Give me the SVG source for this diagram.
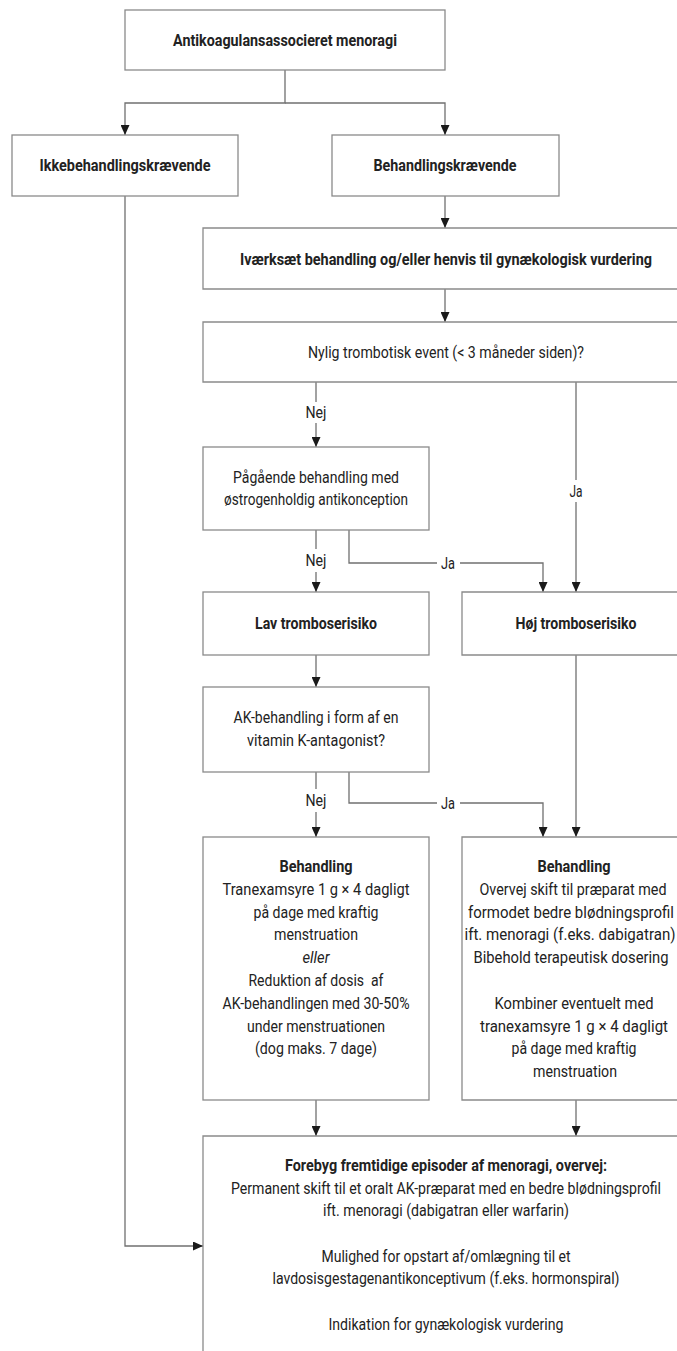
<svg xmlns="http://www.w3.org/2000/svg" width="677" height="1351" viewBox="0 0 677 1351">
<style>
.box{fill:#fff;stroke:#8a8a8a;stroke-width:1.3}
.ob{fill:none;stroke:#8a8a8a;stroke-width:1.3}
.ln{fill:none;stroke:#707070;stroke-width:1.3}
text{font-family:Roboto,"Liberation Sans",sans-serif;font-size:17px;fill:#222;text-anchor:middle}
.b{font-weight:bold}
.i{font-style:italic}
</style>
<defs>
<marker id="ah" markerUnits="userSpaceOnUse" markerWidth="10" markerHeight="9" refX="10" refY="4.5" orient="auto">
<path d="M0,0 L10,4.5 L0,9 z" fill="#1a1a1a"/>
</marker>
</defs>
<rect width="677" height="1351" fill="#fff"/>
<g id="connectors">
<path class="ln" d="M285,70 V103 H125 V135" marker-end="url(#ah)"/>
<path class="ln" d="M285,103 H445 V135" marker-end="url(#ah)"/>
<path class="ln" d="M125,196 V1246 H203" marker-end="url(#ah)"/>
<path class="ln" d="M445,196 V228" marker-end="url(#ah)"/>
<path class="ln" d="M445,289 V322" marker-end="url(#ah)"/>
<path class="ln" d="M316,382 V402"/>
<path class="ln" d="M316,423 V447" marker-end="url(#ah)"/>
<path class="ln" d="M576,382 V480"/>
<path class="ln" d="M576,502 V592" marker-end="url(#ah)"/>
<path class="ln" d="M316,530 V549"/>
<path class="ln" d="M316,572 V592" marker-end="url(#ah)"/>
<path class="ln" d="M349,530 V563 H437"/>
<path class="ln" d="M460,563 H543 V592" marker-end="url(#ah)"/>
<path class="ln" d="M316,655 V687" marker-end="url(#ah)"/>
<path class="ln" d="M316,772 V789"/>
<path class="ln" d="M316,812 V837" marker-end="url(#ah)"/>
<path class="ln" d="M349,772 V803 H437"/>
<path class="ln" d="M460,803 H543 V837" marker-end="url(#ah)"/>
<path class="ln" d="M576,655 V837" marker-end="url(#ah)"/>
<path class="ln" d="M316,1100 V1136" marker-end="url(#ah)"/>
<path class="ln" d="M576,1100 V1136" marker-end="url(#ah)"/>
<g transform="scale(0.8,1)">
<text x="395" y="418" textLength="26.25" lengthAdjust="spacingAndGlyphs">Nej</text>
<text x="720" y="497" textLength="16.25" lengthAdjust="spacingAndGlyphs">Ja</text>
<text x="395" y="566" textLength="26.25" lengthAdjust="spacingAndGlyphs">Nej</text>
<text x="560" y="569" textLength="17.5" lengthAdjust="spacingAndGlyphs">Ja</text>
<text x="395" y="806" textLength="26.25" lengthAdjust="spacingAndGlyphs">Nej</text>
<text x="560" y="809" textLength="17.5" lengthAdjust="spacingAndGlyphs">Ja</text>
</g>
</g>
<g id="n_top">
<rect class="box" x="125" y="10" width="320" height="60"/>
<g transform="scale(0.8,1)">
<text class="b" x="356.25" y="46" textLength="280" lengthAdjust="spacingAndGlyphs">Antikoagulansassocieret menoragi</text>
</g>
</g>
<g id="n_ikke">
<rect class="box" x="12" y="135" width="226" height="61"/>
<g transform="scale(0.8,1)">
<text class="b" x="156.25" y="171" textLength="213.75" lengthAdjust="spacingAndGlyphs">Ikkebehandlingskrævende</text>
</g>
</g>
<g id="n_beh">
<rect class="box" x="332" y="135" width="227" height="61"/>
<g transform="scale(0.8,1)">
<text class="b" x="556.25" y="171" textLength="178.75" lengthAdjust="spacingAndGlyphs">Behandlingskrævende</text>
</g>
</g>
<g id="n_ivaerksaet">
<path class="ob" d="M677,228 H203 V289 H677"/>
<g transform="scale(0.8,1)">
<text class="b" x="557.5" y="265" textLength="515" lengthAdjust="spacingAndGlyphs">Iværksæt behandling og/eller henvis til gynækologisk vurdering</text>
</g>
</g>
<g id="n_nylig">
<path class="ob" d="M677,322 H203 V382 H677"/>
<g transform="scale(0.8,1)">
<text x="557.5" y="358" textLength="345" lengthAdjust="spacingAndGlyphs">Nylig trombotisk event (&lt; 3 måneder siden)?</text>
</g>
</g>
<g id="n_paagaaende">
<rect class="box" x="203" y="447" width="226" height="83"/>
<g transform="scale(0.8,1)">
<text x="395" y="483" textLength="207.5" lengthAdjust="spacingAndGlyphs">Pågående behandling med</text>
<text x="395" y="505" textLength="230" lengthAdjust="spacingAndGlyphs">østrogenholdig antikonception</text>
</g>
</g>
<g id="n_lav">
<rect class="box" x="203" y="592" width="226" height="63"/>
<g transform="scale(0.8,1)">
<text class="b" x="395" y="629" textLength="152.5" lengthAdjust="spacingAndGlyphs">Lav tromboserisiko</text>
</g>
</g>
<g id="n_hoej">
<path class="ob" d="M677,592 H462 V655 H677"/>
<g transform="scale(0.8,1)">
<text class="b" x="720" y="629" textLength="151.25" lengthAdjust="spacingAndGlyphs">Høj tromboserisiko</text>
</g>
</g>
<g id="n_ak">
<rect class="box" x="203" y="687" width="226" height="85"/>
<g transform="scale(0.8,1)">
<text x="395" y="723" textLength="206.25" lengthAdjust="spacingAndGlyphs">AK-behandling i form af en</text>
<text x="395" y="746" textLength="172.5" lengthAdjust="spacingAndGlyphs">vitamin K-antagonist?</text>
</g>
</g>
<g id="n_beh_lav">
<rect class="box" x="203" y="837" width="226" height="263"/>
<g transform="scale(0.8,1)">
<text class="b" x="395" y="872" textLength="91.25" lengthAdjust="spacingAndGlyphs">Behandling</text>
<text x="395" y="895" textLength="233.75" lengthAdjust="spacingAndGlyphs">Tranexamsyre 1 g × 4 dagligt</text>
<text x="395" y="918" textLength="156.25" lengthAdjust="spacingAndGlyphs">på dage med kraftig</text>
<text x="395" y="940" textLength="105" lengthAdjust="spacingAndGlyphs">menstruation</text>
<text class="i" x="395" y="963" textLength="33.75" lengthAdjust="spacingAndGlyphs">eller</text>
<text x="395" y="986" textLength="168.75" lengthAdjust="spacingAndGlyphs" xml:space="preserve">Reduktion af dosis  af</text>
<text x="395" y="1009" textLength="233.75" lengthAdjust="spacingAndGlyphs">AK-behandlingen med 30-50%</text>
<text x="395" y="1032" textLength="172.5" lengthAdjust="spacingAndGlyphs">under menstruationen</text>
<text x="395" y="1054" textLength="152.5" lengthAdjust="spacingAndGlyphs">(dog maks. 7 dage)</text>
</g>
</g>
<g id="n_beh_hoej">
<path class="ob" d="M677,837 H462 V1100 H677"/>
<g transform="scale(0.8,1)">
<text class="b" x="717.5" y="872" textLength="91.25" lengthAdjust="spacingAndGlyphs">Behandling</text>
<text x="716.25" y="895" textLength="233.75" lengthAdjust="spacingAndGlyphs">Overvej skift til præparat med</text>
<text x="713.75" y="918" textLength="257.5" lengthAdjust="spacingAndGlyphs">formodet bedre blødningsprofil</text>
<text x="712.5" y="940" textLength="263.75" lengthAdjust="spacingAndGlyphs">ift. menoragi (f.eks. dabigatran)</text>
<text x="713.75" y="963" textLength="243.75" lengthAdjust="spacingAndGlyphs">Bibehold terapeutisk dosering</text>
<text x="717.5" y="1009" textLength="198.75" lengthAdjust="spacingAndGlyphs">Kombiner eventuelt med</text>
<text x="717.5" y="1032" textLength="235" lengthAdjust="spacingAndGlyphs">tranexamsyre 1 g × 4 dagligt</text>
<text x="717.5" y="1054" textLength="156.25" lengthAdjust="spacingAndGlyphs">på dage med kraftig</text>
<text x="718.75" y="1077" textLength="105" lengthAdjust="spacingAndGlyphs">menstruation</text>
</g>
</g>
<g id="n_forebyg">
<path class="ob" d="M677,1136 H203 V1351"/>
<g transform="scale(0.8,1)">
<text class="b" x="557.5" y="1171" textLength="402.5" lengthAdjust="spacingAndGlyphs">Forebyg fremtidige episoder af menoragi, overvej:</text>
<text x="557.5" y="1194" textLength="537.5" lengthAdjust="spacingAndGlyphs">Permanent skift til et oralt AK-præparat med en bedre blødningsprofil</text>
<text x="557.5" y="1216" textLength="307.5" lengthAdjust="spacingAndGlyphs">ift. menoragi (dabigatran eller warfarin)</text>
<text x="557.5" y="1262" textLength="311.25" lengthAdjust="spacingAndGlyphs">Mulighed for opstart af/omlægning til et</text>
<text x="557.5" y="1284" textLength="433.75" lengthAdjust="spacingAndGlyphs">lavdosisgestagenantikonceptivum (f.eks. hormonspiral)</text>
<text x="557.5" y="1330" textLength="293.75" lengthAdjust="spacingAndGlyphs">Indikation for gynækologisk vurdering</text>
</g>
</g>
</svg>
